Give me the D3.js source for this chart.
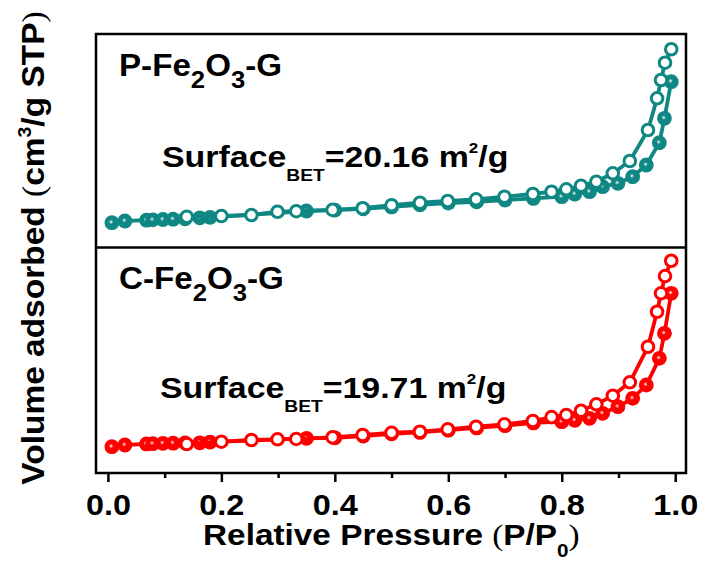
<!DOCTYPE html>
<html><head><meta charset="utf-8">
<script src="https://cdn.jsdelivr.net/npm/d3@7"></script>
<style>html,body{margin:0;padding:0;background:#fff;}svg{display:block;}</style>
</head><body><svg id="c" width="702" height="565"></svg>
<script>
// ---- data ----
const xTicks = [0, 0.2, 0.4, 0.6, 0.8, 1.0];
const xMinorTicks = [0.1, 0.3, 0.5, 0.7, 0.9];
const xTickLabels = ["0.0", "0.2", "0.4", "0.6", "0.8", "1.0"];

const pAds = [0.007, 0.03, 0.068, 0.079, 0.097, 0.115, 0.136, 0.162, 0.18, 0.35, 0.40, 0.45, 0.50, 0.55, 0.60, 0.65, 0.70, 0.75, 0.80, 0.823, 0.849, 0.872, 0.899, 0.925, 0.949, 0.972, 0.981, 0.993];
const pDes = [0.993, 0.982, 0.975, 0.968, 0.952, 0.920, 0.890, 0.861, 0.834, 0.808, 0.782, 0.749, 0.699, 0.649, 0.599, 0.550, 0.500, 0.449, 0.396, 0.332, 0.299, 0.253, 0.200, 0.139];

const vAdsTop = [5.81, 6.21, 6.40, 6.48, 6.56, 6.64, 6.72, 6.95, 7.05, 8.55, 8.75, 9.05, 9.5, 10.0, 10.4, 10.7, 11.1, 11.5, 11.9, 12.53, 13.07, 14.24, 15.03, 16.58, 19.32, 24.54, 30.26, 38.83];
const vDesTop = [46.42, 43.28, 39.23, 34.94, 27.52, 20.26, 17.38, 15.41, 14.47, 13.63, 13.07, 12.53, 11.9, 11.29, 10.89, 10.49, 9.9, 9.2, 8.8, 8.5, 8.38, 7.61, 7.38, 7.21];

const vAdsBot = [5.83, 6.21, 6.45, 6.50, 6.58, 6.62, 6.68, 6.70, 6.85, 7.69, 7.8, 8.2, 8.7, 9.0, 9.5, 10.0, 10.5, 11.1, 11.37, 11.7, 12.13, 13.23, 14.7, 16.56, 19.51, 25.43, 30.97, 39.84];
const vDesBot = [47.07, 43.67, 39.84, 35.76, 28.0, 20.11, 17.14, 15.23, 13.81, 12.86, 12.4, 11.53, 10.80, 10.26, 9.69, 9.16, 8.94, 8.42, 7.91, 7.55, 7.47, 7.32, 6.94, 6.43];

const panels = [
  {name: "P", sub1: "2", sub2: "3", area: "20.16", color: "#0f8782", vAds: vAdsTop, vDes: vDesTop},
  {name: "C", sub1: "2", sub2: "3", area: "19.71", color: "#ff0000", vAds: vAdsBot, vDes: vDesBot}
];

// ---- layout ----
const W = 702, H = 565;
const L = 96, R = 686, T = 34, MID = 247.5, B = 473;
const FONT = "'Liberation Sans', Arial, Helvetica, sans-serif";

const svg = d3.select("#c");
svg.append("rect").attr("width", W).attr("height", H).attr("fill", "#fff");

const x = d3.scaleLinear().domain([-0.021, 1.019]).range([L, R]);
const yScales = [
  d3.scaleLinear().domain([0, 50]).range([MID, T]),
  d3.scaleLinear().domain([0, 50]).range([B, MID])
];
const panelTops = [T, MID];

const defs = svg.append("defs");
panels.forEach((p, i) => {
  const g = defs.append("radialGradient").attr("id", "grad" + i)
    .attr("cx", "0.45").attr("cy", "0.45").attr("r", "0.55");
  g.append("stop").attr("offset", "0%").attr("stop-color", "#ffffff").attr("stop-opacity", 0.9);
  g.append("stop").attr("offset", "28%").attr("stop-color", p.color);
  g.append("stop").attr("offset", "100%").attr("stop-color", p.color);
});

panels.forEach((p, i) => {
  const y = yScales[i];
  const g = svg.append("g");
  const line = d3.line().x(d => x(d[0])).y(d => y(d[1]));
  const ads = pAds.map((v, k) => [v, p.vAds[k]]);
  const des = pDes.map((v, k) => [v, p.vDes[k]]);

  g.append("path").datum(ads).attr("d", line).attr("fill", "none")
    .attr("stroke", p.color).attr("stroke-width", 3.8);
  g.selectAll("circle.f").data(ads).join("circle").attr("class", "f")
    .attr("cx", d => x(d[0])).attr("cy", d => y(d[1])).attr("r", 7.4)
    .attr("fill", `url(#grad${i})`);

  g.append("path").datum(des).attr("d", line).attr("fill", "none")
    .attr("stroke", p.color).attr("stroke-width", 3.8);
  g.selectAll("circle.o").data(des).join("circle").attr("class", "o")
    .attr("cx", d => x(d[0])).attr("cy", d => y(d[1])).attr("r", 5.8)
    .attr("fill", "#fff").attr("stroke", p.color).attr("stroke-width", 3);

  // sample label
  const top = panelTops[i];
  const t1 = svg.append("text").attr("transform", `translate(119,${top + 41.5}) scale(1.07,1)`)
    .attr("font-family", FONT).attr("font-weight", "bold").attr("font-size", 31).attr("fill", "#000");
  t1.append("tspan").text(p.name + "-Fe");
  t1.append("tspan").attr("font-size", 24).attr("dy", 12).text(p.sub1);
  t1.append("tspan").attr("dy", -12).text("O");
  t1.append("tspan").attr("font-size", 24).attr("dy", 12).text(p.sub2);
  t1.append("tspan").attr("dy", -12).text("-G");

  // surface area label
  const ty = i === 0 ? 166.7 : 398.3;
  const tx = i === 0 ? 162 : 160;
  const t2 = svg.append("text").attr("transform", `translate(${tx},${ty}) scale(1.13,1)`)
    .attr("font-family", FONT).attr("font-weight", "bold").attr("font-size", 30).attr("fill", "#000");
  t2.append("tspan").text("Surface");
  t2.append("tspan").attr("font-size", 17).attr("dy", 14).text("BET");
  t2.append("tspan").attr("dy", -14).text("=" + p.area + " m");
  t2.append("tspan").attr("font-size", 15).attr("dy", -14).text("2");
  t2.append("tspan").attr("dy", 14).text("/g");
});

// frame
svg.append("rect").attr("x", L).attr("y", T).attr("width", R - L).attr("height", B - T)
  .attr("fill", "none").attr("stroke", "#000").attr("stroke-width", 2.5);
svg.append("line").attr("x1", L).attr("x2", R).attr("y1", MID).attr("y2", MID)
  .attr("stroke", "#000").attr("stroke-width", 2.5);

// x axis
const axMinor = svg.append("g").attr("transform", `translate(0,${B})`)
  .call(d3.axisBottom(x).tickValues(xMinorTicks).tickSize(5).tickFormat(""));
const axMajor = svg.append("g").attr("transform", `translate(0,${B})`)
  .call(d3.axisBottom(x).tickValues(xTicks).tickSize(9).tickPadding(12)
    .tickFormat((d, k) => xTickLabels[k]));
[axMinor, axMajor].forEach(a => {
  a.select(".domain").remove();
  a.selectAll(".tick line").attr("stroke", "#000").attr("stroke-width", 2.5);
});
axMajor.selectAll(".tick text").attr("font-family", FONT).attr("font-weight", "bold")
  .attr("font-size", 30).attr("fill", "#000").attr("dy", null).attr("y", 42)
  .attr("transform", "scale(1.08,1)");

// x label
const xl = svg.append("text").attr("transform", "translate(203,545) scale(1.15,1)")
  .attr("font-family", FONT).attr("font-weight", "bold").attr("font-size", 29).attr("fill", "#000");
xl.append("tspan").text("Relative Pressure ");
xl.append("tspan").attr("font-family", "'Liberation Serif', serif").attr("font-weight", "normal").text("(");
xl.append("tspan").text("P/P");
xl.append("tspan").attr("font-size", 18).attr("dy", 12).text("0");
xl.append("tspan").attr("dy", -12).attr("font-family", "'Liberation Serif', serif").attr("font-weight", "normal").text(")");

// y label
const yl = svg.append("text").attr("transform", "translate(44,248) rotate(-90) scale(1.08,1)")
  .attr("text-anchor", "middle")
  .attr("font-family", FONT).attr("font-weight", "bold").attr("font-size", 31).attr("fill", "#000");
yl.append("tspan").text("Volume adsorbed ");
yl.append("tspan").attr("font-family", "'Liberation Serif', serif").attr("font-weight", "normal").text("(");
yl.append("tspan").text("cm");
yl.append("tspan").attr("font-size", 18).attr("dy", -13).text("3");
yl.append("tspan").attr("dy", 13).text("/g STP");
yl.append("tspan").attr("font-family", "'Liberation Serif', serif").attr("font-weight", "normal").text(")");
</script></body></html>
